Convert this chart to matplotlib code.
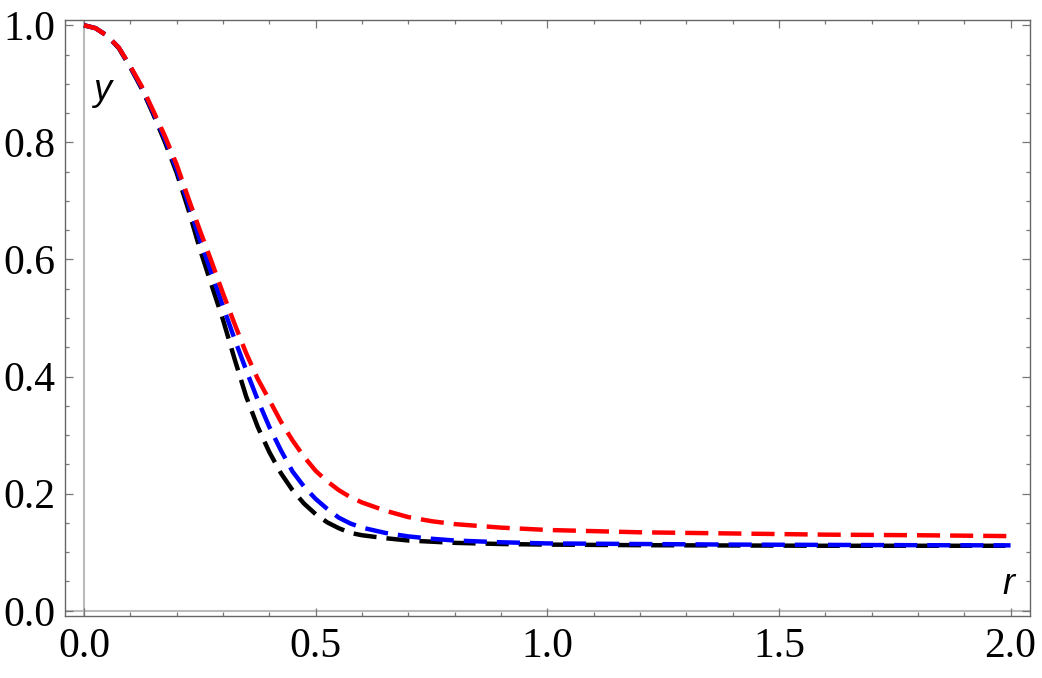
import matplotlib.pyplot as plt
from matplotlib.ticker import MultipleLocator

r = [0.0, 0.025, 0.05, 0.075, 0.1, 0.125, 0.15, 0.175, 0.2, 0.225, 0.25,
     0.275, 0.3, 0.325, 0.35, 0.375, 0.4, 0.425, 0.45, 0.475, 0.5, 0.525,
     0.55, 0.575, 0.6, 0.65, 0.7, 0.75, 0.8, 0.9, 1.0, 1.2, 1.4, 1.6, 1.8, 2.0]

y_black = [1.0, 0.995, 0.982, 0.961, 0.928, 0.891, 0.847, 0.800, 0.748, 0.686,
           0.618, 0.557, 0.497, 0.430, 0.366, 0.314, 0.271, 0.235, 0.206,
           0.183, 0.165, 0.151, 0.141, 0.133, 0.129, 0.124, 0.120, 0.118,
           0.116, 0.114, 0.113, 0.112, 0.1115, 0.111, 0.111, 0.111]
y_blue = [1.0, 0.995, 0.982, 0.962, 0.929, 0.893, 0.850, 0.805, 0.754, 0.696,
          0.634, 0.577, 0.520, 0.464, 0.411, 0.360, 0.314, 0.274, 0.238,
          0.212, 0.191, 0.174, 0.159, 0.149, 0.142, 0.133, 0.127, 0.123,
          0.120, 0.117, 0.115, 0.114, 0.113, 0.1125, 0.112, 0.1117]
y_red = [1.0, 0.995, 0.982, 0.962, 0.930, 0.895, 0.853, 0.810, 0.762, 0.705,
         0.650, 0.597, 0.542, 0.490, 0.440, 0.396, 0.360, 0.323, 0.291,
         0.263, 0.239, 0.221, 0.206, 0.194, 0.185, 0.171, 0.160, 0.153,
         0.148, 0.142, 0.138, 0.134, 0.132, 0.130, 0.129, 0.1275]

fig = plt.figure(figsize=(10.42, 6.78), dpi=100)
ax = fig.add_axes([0.0624, 0.0914, 0.9261, 0.8791])

dash = (0, (5.2, 2.25))
ax.plot(r, y_black, color="black", lw=3.2, linestyle=dash, zorder=3)
ax.plot(r, y_blue, color="#0000FF", lw=3.2, linestyle=dash, zorder=4)
ax.plot(r, y_red, color="#FF0000", lw=3.2, linestyle=dash, zorder=5)

# Mathematica style axis lines through the origin
ax.axvline(0, color="#BBBBBB", lw=1.5, zorder=1)
ax.axhline(0, color="#BBBBBB", lw=1.5, zorder=1)

ax.set_xlim(-0.041, 2.042)
ax.set_ylim(-0.009, 1.009)

ax.xaxis.set_major_locator(MultipleLocator(0.5))
ax.xaxis.set_minor_locator(MultipleLocator(0.1))
ax.yaxis.set_major_locator(MultipleLocator(0.2))
ax.yaxis.set_minor_locator(MultipleLocator(0.05))
ax.xaxis.set_major_formatter(lambda v, p: f"{v:.1f}")
ax.yaxis.set_major_formatter(lambda v, p: f"{v:.1f}")

ax.tick_params(which="both", direction="in", top=True, right=True,
               color="#777777", width=0.9)
ax.tick_params(which="major", length=5.8)
ax.tick_params(which="minor", length=3.2)
ax.tick_params(axis="x", which="major", labelsize=30, pad=8)
ax.tick_params(axis="y", which="major", labelsize=30, pad=7)
for lab in ax.get_xticklabels() + ax.get_yticklabels():
    lab.set_family("Liberation Serif")

for s in ax.spines.values():
    s.set_color("#666666")
    s.set_linewidth(1.0)

ax.text(0.038, 0.888, "y", fontsize=26, style="italic",
        family="Liberation Sans", ha="center", va="center")
ax.text(1.995, 0.045, "r", fontsize=26, style="italic",
        family="Liberation Sans", ha="center", va="center")

fig.savefig("out.png", dpi=100)
